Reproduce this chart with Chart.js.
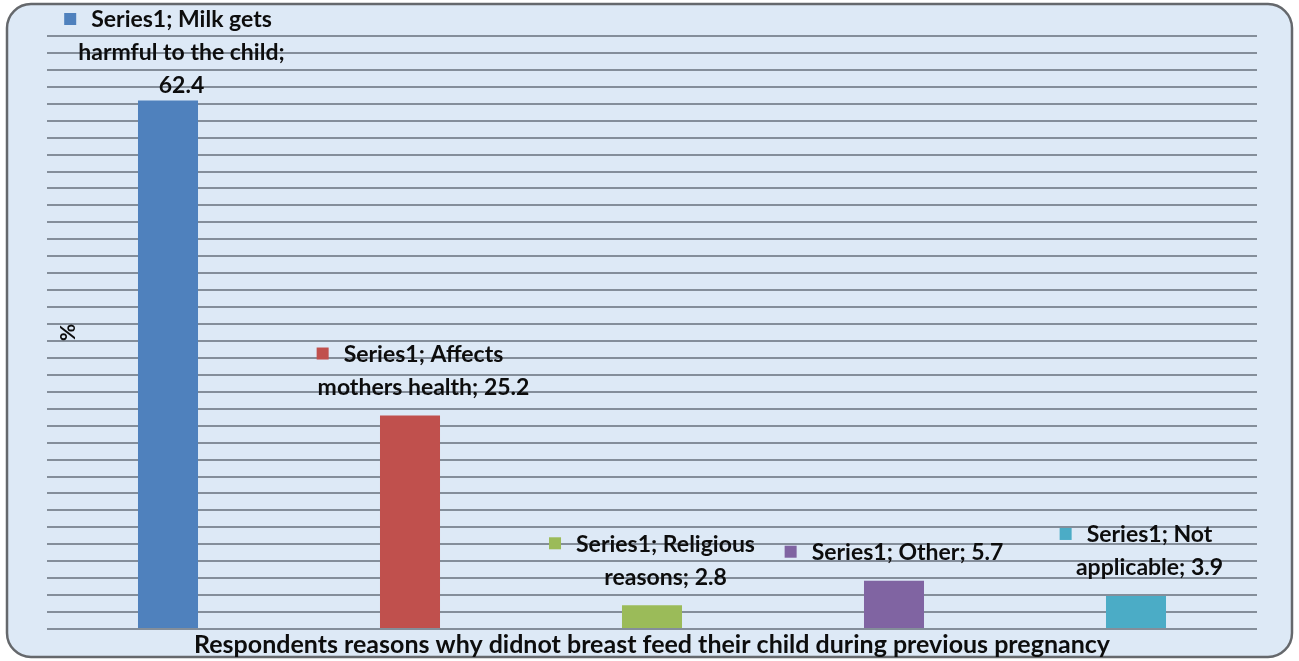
<!DOCTYPE html>
<html>
<head>
<meta charset="utf-8">
<script src="https://cdn.jsdelivr.net/npm/chart.js@4/dist/chart.umd.min.js"></script>
<style>
  html, body { margin: 0; padding: 0; background: #ffffff; }
  #wrap { width: 1299px; height: 661px; }
</style>
</head>
<body>
<div id="wrap"><canvas id="c" width="1299" height="661"></canvas></div>
<script>
// Reasons for not breastfeeding during the previous pregnancy (%)
const seriesName = 'Series1';
const categories = [
  'Milk gets harmful to the child',
  'Affects mothers health',
  'Religious reasons',
  'Other',
  'Not applicable'
];
const percentValues = [62.4, 25.2, 2.8, 5.7, 3.9];
const barColors = ['#4F81BD', '#C0504D', '#9BBB59', '#8064A2', '#4BACC6'];
const axisMax = 70;
const axisStep = 2;
const xTitle = 'Respondents reasons why didnot breast feed their child during previous pregnancy';
const yTitle = '%';

const FONT = 'Lato, "Open Sans", "DejaVu Sans", sans-serif';

// Rounded, light-blue panel behind the whole chart
const panelPlugin = {
  id: 'panel',
  beforeDraw(chart) {
    const ctx = chart.ctx;
    const w = chart.width, h = chart.height;
    ctx.save();
    ctx.fillStyle = '#ffffff';
    ctx.fillRect(0, 0, w, h);
    const x = 7, y = 4, rw = w - 14, rh = h - 8, r = 24;
    ctx.beginPath();
    ctx.roundRect(x, y, rw, rh, r);
    ctx.fillStyle = '#dde9f6';
    ctx.fill();
    ctx.lineWidth = 2.5;
    ctx.strokeStyle = '#65686c';
    ctx.stroke();
    ctx.restore();
  }
};

function wrapWords(ctx, text, maxWidth) {
  const words = text.split(' ');
  const lines = [];
  let cur = '';
  for (const w of words) {
    const test = cur ? cur + ' ' + w : w;
    if (cur && ctx.measureText(test).width > maxWidth) {
      lines.push(cur);
      cur = w;
    } else {
      cur = test;
    }
  }
  if (cur) lines.push(cur);
  return lines;
}

// Data labels with a colour key, in the "Series; Category; Value" form
const barLabelPlugin = {
  id: 'barLabels',
  afterDatasetsDraw(chart) {
    const ctx = chart.ctx;
    const meta = chart.getDatasetMeta(0);
    const ds = chart.data.datasets[0];
    ctx.save();
    ctx.font = 'bold 23px ' + FONT;
    ctx.textBaseline = 'middle';
    ctx.textAlign = 'center';
    const lineH = 33, key = 12, gap = 15;
    meta.data.forEach((bar, i) => {
      const text = seriesName + '; ' + chart.data.labels[i] + '; ' + ds.data[i];
      const lines = wrapWords(ctx, text, 226);
      const textW = Math.max(...lines.map(l => ctx.measureText(l).width));
      const blockW = key + gap + textW;
      const left = bar.x - blockW / 2;
      const textCx = left + key + gap + textW / 2;
      const lastY = bar.y - 28;
      let firstY = lastY - (lines.length - 1) * lineH;
      if (firstY < 20) { firstY = 20; }
      ctx.fillStyle = ds.backgroundColor[i];
      const firstW = ctx.measureText(lines[0]).width;
      const keyX = textCx - firstW / 2 - gap - key;
      ctx.fillRect(keyX, firstY - key / 2 - 1, key, key);
      ctx.fillStyle = '#0d0d0d';
      lines.forEach((l, k) => ctx.fillText(l, textCx, firstY + k * lineH));
    });
    ctx.restore();
  }
};

// Vertical "%" caption inside the plot's left edge
const yTitlePlugin = {
  id: 'yTitle',
  afterDraw(chart) {
    const ctx = chart.ctx;
    const a = chart.chartArea;
    ctx.save();
    ctx.translate(a.left + 21, (a.top + a.bottom) / 2);
    ctx.rotate(-Math.PI / 2);
    ctx.font = 'bold 21px ' + FONT;
    ctx.fillStyle = '#0d0d0d';
    ctx.textAlign = 'center';
    ctx.textBaseline = 'middle';
    ctx.fillText(yTitle, 0, 0);
    ctx.restore();
  }
};

new Chart(document.getElementById('c'), {
  type: 'bar',
  data: {
    labels: categories,
    datasets: [{
      label: seriesName,
      data: percentValues,
      backgroundColor: barColors,
      borderWidth: 0,
      barPercentage: 0.5,
      categoryPercentage: 0.496
    }]
  },
  options: {
    responsive: false,
    animation: false,
    devicePixelRatio: 1,
    layout: { padding: { left: 47, right: 42, top: 36, bottom: 1 } },
    plugins: {
      legend: { display: false },
      tooltip: { enabled: false }
    },
    scales: {
      x: {
        grid: { display: false, drawTicks: false },
        border: { display: false },
        ticks: { display: false },
        title: {
          display: true,
          text: xTitle,
          color: '#0d0d0d',
          font: { family: FONT, size: 25, weight: 'bold' },
          padding: { top: 1, bottom: 0 }
        }
      },
      y: {
        min: 0,
        max: axisMax,
        ticks: { display: false, stepSize: axisStep },
        border: { display: false },
        grid: { color: '#848e9a', lineWidth: 2, drawTicks: false }
      }
    }
  },
  plugins: [panelPlugin, barLabelPlugin, yTitlePlugin]
});
</script>
</body>
</html>
